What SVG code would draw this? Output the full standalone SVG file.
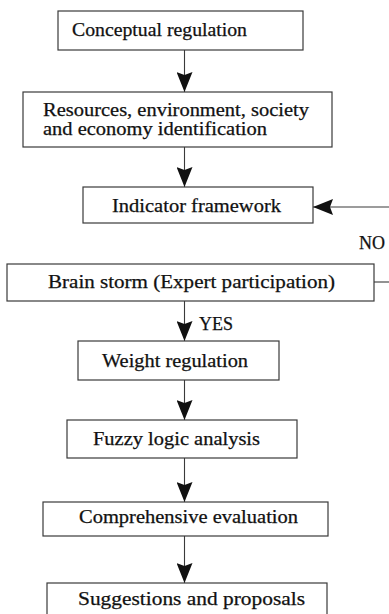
<svg xmlns="http://www.w3.org/2000/svg" width="389" height="614" viewBox="0 0 389 614">
<style>
.box{fill:#fff;stroke:#3a3a3a;stroke-width:1.2}
.t{font-family:"Liberation Serif","Times New Roman",serif;font-size:18px;fill:#111;stroke:#111;stroke-width:0.25}
.c{fill:none;stroke:#3a3a3a;stroke-width:1.1}
.a{marker-end:url(#ah)}
</style>
<defs>
<marker id="ah" viewBox="0 0 20 16" refX="20" refY="8" markerWidth="20" markerHeight="16" markerUnits="userSpaceOnUse" orient="auto">
<path d="M0,0 L20,8 L0,16 L3,8 Z" fill="#111"/>
</marker>
</defs>
<rect width="389" height="614" fill="#fff"/>
<g id="connectors">
<line class="c a" x1="184.5" y1="50" x2="184.5" y2="92"/>
<line class="c a" x1="184.5" y1="147" x2="184.5" y2="187"/>
<line class="c a" x1="184.5" y1="301" x2="184.5" y2="341"/>
<line class="c a" x1="184.5" y1="380" x2="184.5" y2="420"/>
<line class="c a" x1="184.5" y1="458" x2="184.5" y2="502"/>
<line class="c a" x1="184.5" y1="536" x2="184.5" y2="583"/>
<line class="c" x1="374" y1="282" x2="389" y2="282"/>
<line class="c a" x1="389" y1="207" x2="313" y2="207"/>
<text class="t" x="359" y="249">NO</text>
<text class="t" x="199" y="330">YES</text>
</g>
<g id="n1"><rect class="box" x="58" y="11" width="245" height="39"/><text class="t" x="72" y="36" textLength="175" lengthAdjust="spacingAndGlyphs">Conceptual regulation</text></g>
<g id="n2"><rect class="box" x="23" y="92" width="309" height="55"/><text class="t" x="43" y="116" textLength="266" lengthAdjust="spacingAndGlyphs">Resources, environment, society</text><text class="t" x="43" y="135" textLength="224" lengthAdjust="spacingAndGlyphs">and economy identification</text></g>
<g id="n3"><rect class="box" x="83" y="187" width="230" height="36"/><text class="t" x="112" y="212" textLength="169" lengthAdjust="spacingAndGlyphs">Indicator framework</text></g>
<g id="n4"><rect class="box" x="7" y="264" width="367" height="37"/><text class="t" x="48" y="288" textLength="287" lengthAdjust="spacingAndGlyphs">Brain storm (Expert participation)</text></g>
<g id="n5"><rect class="box" x="78" y="341" width="201" height="39"/><text class="t" x="102" y="367" textLength="146" lengthAdjust="spacingAndGlyphs">Weight regulation</text></g>
<g id="n6"><rect class="box" x="67" y="420" width="230" height="38"/><text class="t" x="93" y="445" textLength="167" lengthAdjust="spacingAndGlyphs">Fuzzy logic analysis</text></g>
<g id="n7"><rect class="box" x="43" y="502" width="285" height="34"/><text class="t" x="79" y="523" textLength="219" lengthAdjust="spacingAndGlyphs">Comprehensive evaluation</text></g>
<g id="n8"><rect class="box" x="47" y="583" width="280" height="40"/><text class="t" x="78" y="605" textLength="227" lengthAdjust="spacingAndGlyphs">Suggestions and proposals</text></g>
</svg>
